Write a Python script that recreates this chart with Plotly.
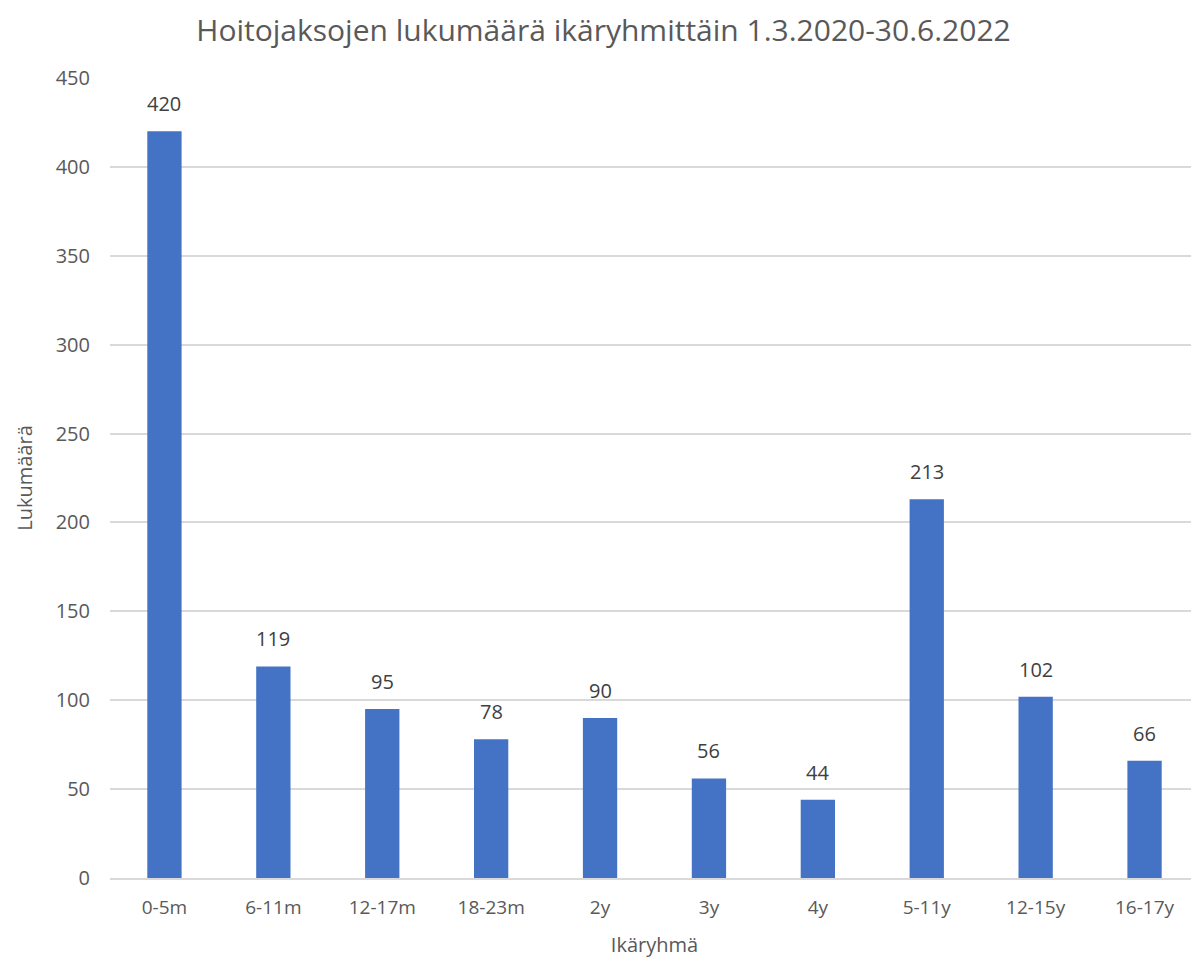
import plotly.graph_objects as go

categories = ["0-5m", "6-11m", "12-17m", "18-23m", "2y", "3y", "4y", "5-11y", "12-15y", "16-17y"]
values = [420, 119, 95, 78, 90, 56, 44, 213, 102, 66]
y_ticks = [0, 50, 100, 150, 200, 250, 300, 350, 400, 450]

FONT = "Open Sans"
GRAY = "#595959"
W, H = 1191, 951

fig = go.Figure(go.Bar(
    x=categories, y=values,
    marker=dict(color="#4472C4", line=dict(width=0)),
))

for c, v in zip(categories, values):
    fig.add_annotation(x=c, y=v, text=str(v), showarrow=False, yanchor="bottom",
                       yshift=12, font=dict(family=FONT, size=20, color="#404040"))

fig.update_layout(
    width=W, height=H,
    margin=dict(l=102, r=0, t=70, b=81),
    paper_bgcolor="white", plot_bgcolor="white",
    bargap=0.685,
    showlegend=False,
    title=dict(text="Hoitojaksojen lukumäärä ikäryhmittäin 1.3.2020-30.6.2022",
               x=0.5, xanchor="center", y=1 - 22 / H, yanchor="middle",
               font=dict(family=FONT, size=30, color=GRAY)),
    font=dict(family=FONT, color=GRAY),
    xaxis=dict(title=dict(text="Ikäryhmä", font=dict(family=FONT, size=20, color=GRAY), standoff=19),
               tickfont=dict(family=FONT, size=19, color=GRAY), ticklabelstandoff=11,
               showline=True, linecolor="#D9D9D9", linewidth=1.5, ticks="", showgrid=False),
    yaxis=dict(title=dict(text="Lukumäärä", font=dict(family=FONT, size=20, color=GRAY), standoff=17),
               tickfont=dict(family=FONT, size=20, color=GRAY),
               range=[0, 450], tickvals=y_ticks, showgrid=True, gridcolor="#D9D9D9", gridwidth=1.5,
               zeroline=False, ticks="", ticklabelstandoff=19),
)

fig.write_html("out.html")
